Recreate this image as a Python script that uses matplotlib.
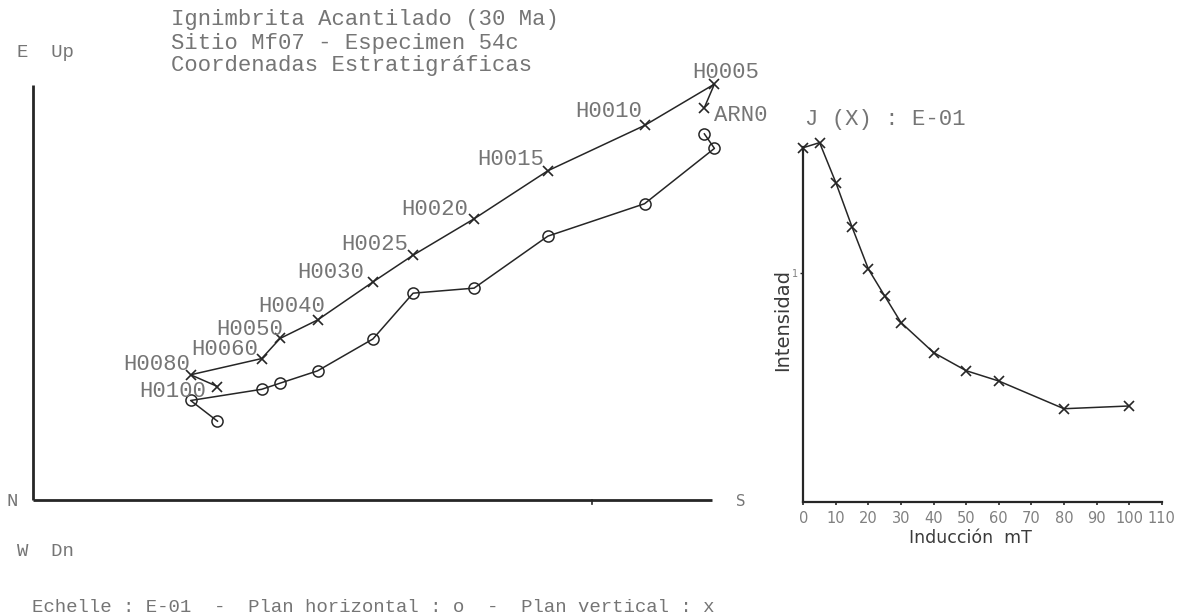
import matplotlib
matplotlib.use("Agg")
import matplotlib.pyplot as plt

# ---- demagnetisation data (AF steps, values in units of E-01) ----
steps = ["ARN0", "H0005", "H0010", "H0015", "H0020", "H0025",
         "H0030", "H0040", "H0050", "H0060", "H0080", "H0100"]
north_south = [1.201, 1.219, 1.094, 0.921, 0.789, 0.680,
               0.608, 0.509, 0.442, 0.409, 0.282, 0.330]
east_west = [0.655, 0.629, 0.530, 0.472, 0.379, 0.370,
             0.288, 0.231, 0.209, 0.198, 0.178, 0.141]
up_down = [0.702, 0.744, 0.670, 0.589, 0.503, 0.438,
           0.390, 0.322, 0.289, 0.253, 0.224, 0.203]

# ---- intensity decay ----
fields_mT = [0, 5, 10, 15, 20, 25, 30, 40, 50, 60, 80, 100]
intensity = [1.546, 1.568, 1.393, 1.198, 1.015, 0.898,
             0.782, 0.651, 0.572, 0.527, 0.406, 0.418]
field_ticks = list(range(0, 111, 10))

title_lines = ["Ignimbrita Acantilado (30 Ma)",
               "Sitio Mf07 - Especimen 54c",
               "Coordenadas Estratigráficas"]
scale_note = "Echelle : E-01  -  Plan horizontal : o  -  Plan vertical : x"

# ---- layout / style ----
W, H = 1189, 615
MONO = "Liberation Mono"
TXT = "#757575"
INK = "#262626"

# pixel offsets of the step labels from their vertical-plane marker
label_offsets = [(9.5, -13.5), (-22.6, 6.5), (-69.3, 8.7), (-71, 6), (-73, 4),
                 (-72, 5), (-76, 4), (-59.7, 8), (-64.3, 3.3), (-70, 3.3),
                 (-67.7, 5), (-78.3, -10.3)]

fig = plt.figure(figsize=(W / 100, H / 100), dpi=100)
fig.patch.set_facecolor("white")


def fx(px):
    return px / W


def fy(py):
    return 1 - py / H


# ---------------- Zijderveld diagram ----------------
OX, OY, UNIT = 33, 500, 559
axz = fig.add_axes([0, 0, 780 / W, 1])
axz.set_xlim(-OX / UNIT, (780 - OX) / UNIT)
axz.set_ylim((OY - H) / UNIT, OY / UNIT)
axz.axis("off")

axz.plot([0, 1.215], [0, 0], color=INK, lw=2.0, solid_capstyle="butt")
axz.plot([0, 0], [0, 0.742], color=INK, lw=2.0, solid_capstyle="butt")
axz.plot([1.0, 1.0], [0, -0.008], color=INK, lw=1.2)

axz.plot(north_south, east_west, color=INK, lw=1.1, marker="o", ms=8,
         mfc="none", mec=INK, mew=1.1)
axz.plot(north_south, up_down, color=INK, lw=1.1, marker="x", ms=7.5,
         mec=INK, mew=1.2)

for name, xs, yv, (dx, dy) in zip(steps, north_south, up_down, label_offsets):
    axz.annotate(name, (xs, yv), xytext=(dx, dy), textcoords="offset pixels",
                 ha="left", va="baseline", family=MONO, fontsize=16, color=TXT)

for i, line in enumerate(title_lines):
    fig.text(fx(171), fy(25.5 + 23 * i), line, family=MONO, fontsize=16,
             color=TXT, ha="left", va="baseline")

fig.text(fx(17), fy(57), "E  Up", family=MONO, fontsize=13.7, color=TXT,
         ha="left", va="baseline")
fig.text(fx(6), fy(506.5), "N", family=MONO, fontsize=13.7, color=TXT,
         ha="left", va="baseline")
fig.text(fx(17), fy(556.5), "W  Dn", family=MONO, fontsize=13.7, color=TXT,
         ha="left", va="baseline")
fig.text(fx(736), fy(506.5), "S", family="DejaVu Sans", fontsize=10.5,
         color=TXT, ha="left", va="baseline")
fig.text(fx(32), fy(612), scale_note, family=MONO, fontsize=13.7, color=TXT,
         ha="left", va="baseline")

# ---------------- intensity decay curve ----------------
left, right, top, bottom = 803.3, 1161.7, 146.7, 501.7
axj = fig.add_axes([fx(left), fy(bottom), (right - left) / W, (bottom - top) / H])
axj.set_xlim(0, 110)
axj.set_ylim(0, (bottom - top) / 229.0)
axj.patch.set_alpha(0)
for side in ("top", "right"):
    axj.spines[side].set_visible(False)
for side in ("left", "bottom"):
    axj.spines[side].set_color(INK)
    axj.spines[side].set_linewidth(1.6)

axj.plot(fields_mT, intensity, color=INK, lw=1.1, marker="x", ms=7.5,
         mec=INK, mew=1.2, clip_on=False)

axj.set_xticks(field_ticks)
axj.set_xticklabels([str(t) for t in field_ticks])
axj.tick_params(axis="x", direction="out", length=2.5, width=1.2, pad=4,
                colors=INK, labelcolor="#808080", labelsize=10.5)
axj.set_yticks([1])
axj.set_yticklabels(["1"])
axj.tick_params(axis="y", direction="out", length=2.5, width=1.0, pad=1,
                colors=INK, labelcolor="#808080", labelsize=7)

fig.text(fx(805), fy(125), "J (X) : E-01", family=MONO, fontsize=16,
         color=TXT, ha="left", va="baseline")
fig.text(fx(783), fy(320), "Intensidad", family="DejaVu Sans", fontsize=14,
         color="#3a3a3a", rotation=90, ha="center", va="center")
fig.text(fx(970), fy(538), "Inducción  mT", family="DejaVu Sans",
         fontsize=12.5, color="#3a3a3a", ha="center", va="center")

fig.savefig("out.png", dpi=100)
